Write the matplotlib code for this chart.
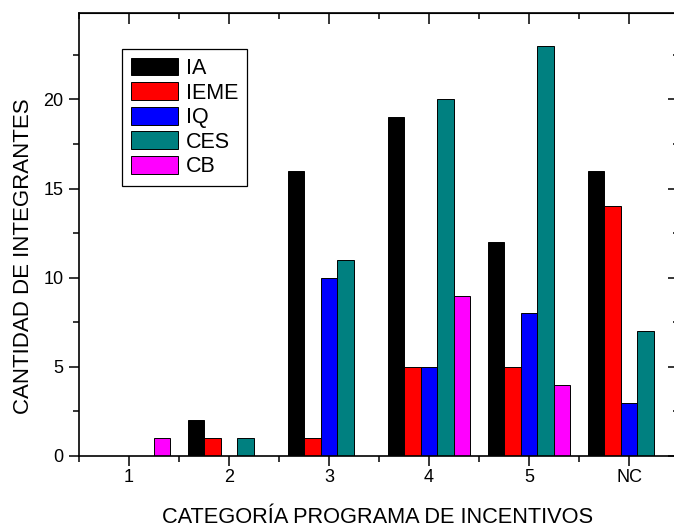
import numpy as np
import matplotlib
matplotlib.use("Agg")
import matplotlib.pyplot as plt
from matplotlib.ticker import MultipleLocator

plt.rcParams['font.family'] = ['Liberation Sans', 'DejaVu Sans']

categorias = ['1', '2', '3', '4', '5', 'NC']
series = ['IA', 'IEME', 'IQ', 'CES', 'CB']
ia = [0, 2, 16, 19, 12, 16]
ieme = [0, 1, 1, 5, 5, 14]
iq = [0, 0, 10, 5, 8, 3]
ces = [0, 1, 11, 20, 23, 7]
cb = [1, 0, 0, 9, 4, 0]
colores = ['#000000', '#ff0000', '#0000ff', '#008080', '#ff00ff']

fig = plt.figure(figsize=(6.74, 5.29), dpi=100)
ax = fig.add_axes([79 / 674, 73 / 529, 600 / 674, 443 / 529])

x = np.arange(1, len(categorias) + 1)
w = 0.164
for i, (nombre, vals) in enumerate(zip(series, [ia, ieme, iq, ces, cb])):
    ax.bar(x + (i - 2) * w, vals, width=w, color=colores[i],
           edgecolor='black', linewidth=0.7, label=nombre)

ax.set_xlim(0.5, 6.5)
ax.set_ylim(0, 24.85)
ax.set_xticks(x)
ax.set_xticklabels(categorias)
ax.xaxis.set_minor_locator(MultipleLocator(0.5))
ax.set_yticks([0, 5, 10, 15, 20])
ax.yaxis.set_minor_locator(MultipleLocator(2.5))
ax.tick_params(which='both', direction='out', labelsize=13, width=1.1)
ax.tick_params(which='major', length=7)
ax.tick_params(which='minor', length=4)
ax.tick_params(axis='x', pad=2)
ax.tick_params(axis='y', pad=4)
for s in ax.spines.values():
    s.set_linewidth(1.2)

# ticks espejo hacia adentro arriba y a la derecha
top = ax.secondary_xaxis('top')
top.set_xticks(x)
top.set_xticklabels([])
top.xaxis.set_minor_locator(MultipleLocator(0.5))
top.tick_params(which='both', direction='in', width=1.1)
top.tick_params(which='major', length=8)
top.tick_params(which='minor', length=4.5)
right = ax.secondary_yaxis('right')
right.set_yticks([0, 5, 10, 15, 20])
right.set_yticklabels([])
right.yaxis.set_minor_locator(MultipleLocator(2.5))
right.tick_params(which='both', direction='in', width=1.1)
right.tick_params(which='major', length=8)
right.tick_params(which='minor', length=4.5)

fig.text(378 / 674, 6 / 529, 'CATEGORÍA PROGRAMA DE INCENTIVOS', fontsize=15.7,
         ha='center', va='baseline')
ax.set_ylabel('CANTIDAD DE INTEGRANTES', fontsize=16)
ax.yaxis.set_label_coords(-0.075, 0.45)

leg = ax.legend(loc='upper left', bbox_to_anchor=(0.0717, 0.9187), borderaxespad=0,
                fontsize=15.5, handlelength=2.2, handleheight=0.9, handletextpad=0.35,
                labelspacing=0.15, borderpad=0.4, fancybox=False, framealpha=1,
                edgecolor='black')
leg.get_frame().set_linewidth(0.9)

fig.savefig('out.png', dpi=100)
